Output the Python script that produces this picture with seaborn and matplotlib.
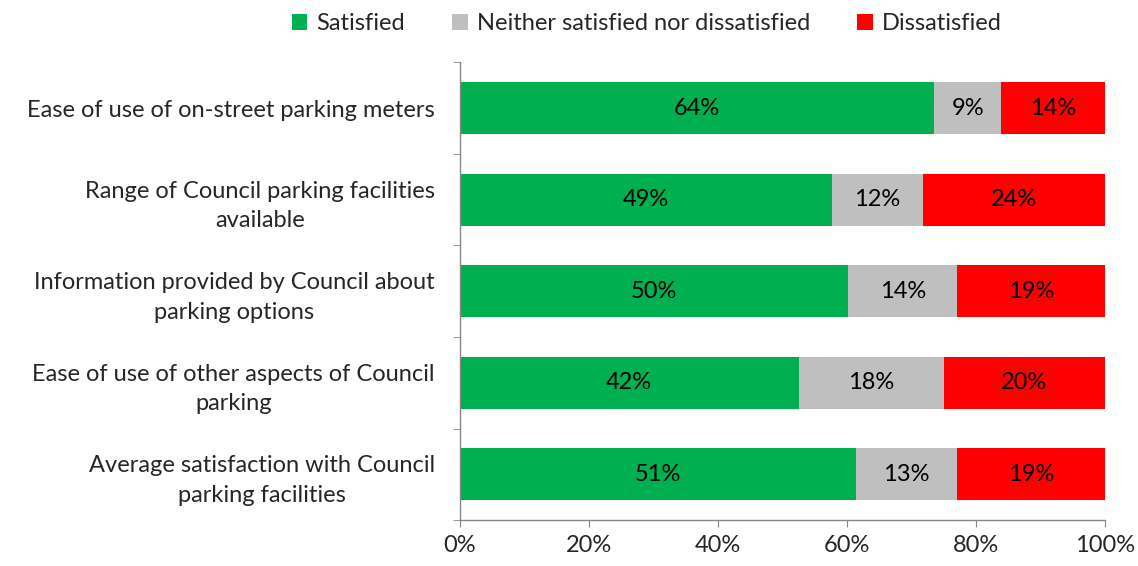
#!/usr/bin/env python3

import numpy as np
import pandas as pd
import matplotlib
matplotlib.use('Agg')
import matplotlib.pyplot as plt
import seaborn as sns
from matplotlib.ticker import FixedLocator, PercentFormatter

categories = [
    'Ease of use of on-street parking meters',
    'Range of Council parking facilities\navailable',
    'Information provided by Council about\nparking options',
    'Ease of use of other aspects of Council\nparking',
    'Average satisfaction with Council\nparking facilities',
]
satisfied = [64, 49, 50, 42, 51]
neither = [9, 12, 14, 18, 13]
dissatisfied = [14, 24, 19, 20, 19]

series_names = ['Satisfied', 'Neither satisfied nor dissatisfied', 'Dissatisfied']
colors = ['#00B050', '#BFBFBF', '#FF0000']


def main():
  sns.set_style('white')
  plt.rcParams['font.family'] = ['Lato', 'DejaVu Sans']
  fs = 17

  raw = np.array([satisfied, neither, dissatisfied], dtype=float)
  share = raw / raw.sum(axis=0) * 100
  cum = np.cumsum(share, axis=0)

  fig, ax = plt.subplots(figsize=(11.38, 5.66), dpi=100)
  fig.subplots_adjust(left=0.404, right=0.971, top=0.89, bottom=0.081)

  # draw back to front: full stack first, then shorter ones on top
  for k in [2, 1, 0]:
    df = pd.DataFrame({'cat': categories, 'val': cum[k]})
    sns.barplot(data=df, x='val', y='cat', orient='h', color=colors[k],
                width=0.57, saturation=1, ax=ax, label=series_names[k])

  for k in range(3):
    left = cum[k] - share[k]
    for i in range(len(categories)):
      ax.text(left[i] + share[k][i] / 2, i, '%d%%' % raw[k][i],
              ha='center', va='center', fontsize=fs, color='black')

  for p in ax.patches:
    p.set_linewidth(0)

  ax.set_xlim(0, 100)
  ax.set_ylim(len(categories) - 0.5, -0.5)
  ax.set_xlabel('')
  ax.set_ylabel('')
  ax.xaxis.set_major_locator(FixedLocator([0, 20, 40, 60, 80, 100]))
  ax.xaxis.set_major_formatter(PercentFormatter(decimals=0))
  ax.yaxis.set_minor_locator(FixedLocator(np.arange(-0.5, len(categories), 1)))

  for s in ['top', 'right']:
    ax.spines[s].set_visible(False)
  for s in ['left', 'bottom']:
    ax.spines[s].set_color('#868686')
    ax.spines[s].set_linewidth(1)

  ax.tick_params(axis='x', which='major', length=5, color='#868686',
                 labelsize=fs, pad=6, direction='out', bottom=True)
  ax.tick_params(axis='y', which='major', length=0, labelsize=fs, pad=18)
  ax.tick_params(axis='y', which='minor', length=5, color='#868686',
                 direction='out', left=True)
  for lab in ax.get_yticklabels():
    lab.set_multialignment('center')
    lab.set_linespacing(1.5)

  # legend in series order
  handles, labels = ax.get_legend_handles_labels()
  order = [labels.index(n) for n in series_names]
  ax.legend([handles[i] for i in order], series_names, loc='lower center',
            bbox_to_anchor=(0.29, 1.015), ncol=3, frameon=False, fontsize=fs,
            handlelength=0.65, handleheight=0.65, handletextpad=0.4,
            columnspacing=2.0)

  fig.savefig('out.png', dpi=100)


if __name__ == '__main__':
  main()
